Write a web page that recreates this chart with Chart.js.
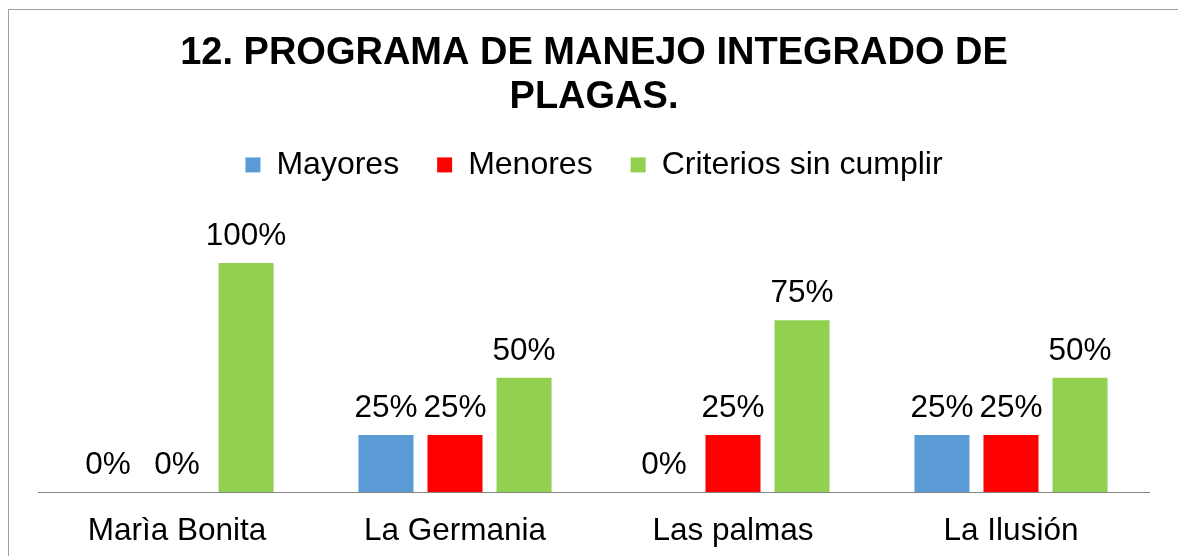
<!DOCTYPE html>
<html>
<head>
<meta charset="utf-8">
<script src="https://cdn.jsdelivr.net/npm/chart.js@4"></script>
<style>
  html, body { margin: 0; padding: 0; background: #fff; }
  #wrap { position: relative; width: 1178px; height: 556px; overflow: hidden; }
  #frame {
    position: absolute; left: 8px; top: 9px; width: 1300px; height: 700px;
    border-left: 1px solid #a0a0a0; border-top: 1px solid #a0a0a0;
  }
  canvas { position: absolute; left: 0; top: 0; }
</style>
</head>
<body>
<div id="wrap">
  <div id="frame"></div>
  <canvas id="chart" width="1178" height="556"></canvas>
</div>
<script>
// data
const farms = ["Marìa Bonita", "La Germania", "Las palmas", "La Ilusión"];
const mayores = [0, 25, 0, 25];
const menores = [0, 25, 25, 25];
const sinCumplir = [100, 50, 75, 50];

const seriesNames = ["Mayores", "Menores", "Criterios sin cumplir"];
const seriesColors = ["#5B9BD5", "#FF0000", "#92D050"];

const font = "'Liberation Sans', Arial, sans-serif";

// axis line along the plot bottom + percentage labels above each bar
const barLabels = {
  id: "barLabels",
  afterDatasetsDraw(chart) {
    const ctx = chart.ctx;
    const xs = chart.scales.x;
    const half = (xs.getPixelForTick(1) - xs.getPixelForTick(0)) / 2;
    const left = xs.getPixelForTick(0) - half;
    const right = xs.getPixelForTick(farms.length - 1) + half;
    const base = chart.scales.y.getPixelForValue(0);
    ctx.save();
    ctx.strokeStyle = "#868686";
    ctx.lineWidth = 1;
    ctx.beginPath();
    ctx.moveTo(left, Math.round(base) + 0.5);
    ctx.lineTo(right, Math.round(base) + 0.5);
    ctx.stroke();

    ctx.font = "31.5px " + font;
    ctx.fillStyle = "#000";
    ctx.textAlign = "center";
    ctx.textBaseline = "alphabetic";
    chart.data.datasets.forEach((ds, i) => {
      chart.getDatasetMeta(i).data.forEach((bar, j) => {
        ctx.fillText(ds.data[j] + "%", bar.x, bar.y - 18);
      });
    });
    ctx.restore();
  },
};

new Chart(document.getElementById("chart"), {
  type: "bar",
  data: {
    labels: farms,
    datasets: [mayores, menores, sinCumplir].map((d, i) => ({
      label: seriesNames[i],
      data: d,
      backgroundColor: seriesColors[i],
      categoryPercentage: 0.745,
      barPercentage: 0.797,
    })),
  },
  options: {
    responsive: false,
    animation: false,
    devicePixelRatio: 1,
    layout: { padding: { left: 38, right: 28, top: 0, bottom: -14 } },
    plugins: {
      title: {
        display: true,
        text: ["12. PROGRAMA DE MANEJO INTEGRADO DE", "PLAGAS."],
        color: "#000",
        font: { family: font, size: 38, weight: "bold", lineHeight: 1.17 },
        padding: { top: 31, bottom: -9 },
      },
      legend: {
        position: "top",
        labels: {
          color: "#000",
          font: { family: font, size: 32 },
          boxWidth: 15,
          boxHeight: 15,
          padding: 38,
        },
      },
      tooltip: { enabled: false },
    },
    scales: {
      x: {
        grid: { display: false, drawTicks: false },
        border: { display: false },
        ticks: { color: "#000", font: { family: font, size: 31.5 }, padding: 20 },
      },
      y: {
        display: false,
        min: 0,
        max: 131.5,
      },
    },
  },
  plugins: [barLabels],
});
</script>
</body>
</html>
